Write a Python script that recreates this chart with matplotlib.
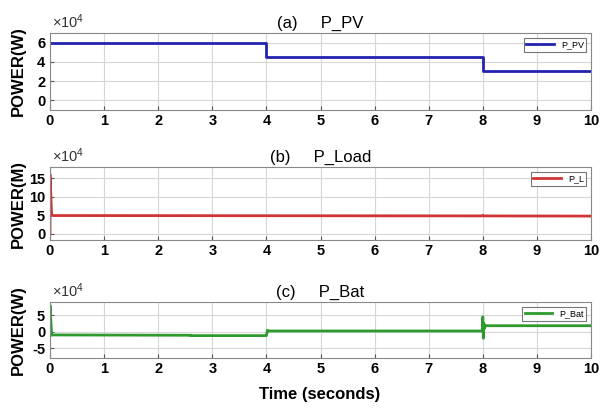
import matplotlib
matplotlib.use("Agg")
import matplotlib.pyplot as plt
from matplotlib.ticker import FuncFormatter

plt.rcParams['font.family'] = ['Liberation Sans', 'DejaVu Sans']
plt.rcParams['mathtext.fontset'] = 'custom'
plt.rcParams['mathtext.rm'] = 'Liberation Sans'

# ---- data (W) ----
t_pv = [0, 4, 4, 8, 8, 10]
p_pv = [60000, 60000, 45000, 45000, 31000, 31000]

t_load = [0, 0.0, 0.03, 0.06, 4.0, 7.99, 8.0, 8.01, 10]
p_load = [0, 160000, 50000, 49000, 48500, 48000, 49500, 48000, 47500]

t_bat = [0, 0.0, 0.03, 0.06, 2.6, 2.6, 3.99, 4.0, 4.02, 4.05, 7.99, 8.0, 8.01, 8.02, 8.03, 8.05, 10]
p_bat = [-12000, 80000, -10000, -10000, -11000, -12000, -12000, -12000, 4000, 2000, 2000, 45000, -20000, 25000, 10000, 18000, 18000]

xticks = list(range(0, 11))
titles = ['(a)     P_PV', '(b)     P_Load', '(c)     P_Bat']
ylabels = ['POWER(W)', 'POWER(M)', 'POWER(W)']
legends = ['P_PV', 'P_L', 'P_Bat']
colors = ['#2323b0', '#d03434', '#2e9a2e']
yticks = [[0, 2, 4, 6], [0, 5, 10, 15], [-5, 0, 5]]
ylims = [(-1, 7), (-1.7, 18), (-8, 9)]

series = [(t_pv, p_pv), (t_load, p_load), (t_bat, p_bat)]

fig = plt.figure(figsize=(6, 4.08), dpi=100)
W, H = 600, 408
boxes = [(50, 33, 591, 110), (50, 167, 591, 240), (50, 302, 591, 358)]

for i, (l, tp, r, bt) in enumerate(boxes):
    ax = fig.add_axes([l / W, 1 - bt / H, (r - l) / W, (bt - tp) / H])
    t, p = series[i]
    ax.plot(t, p, color=colors[i], lw=2, label=legends[i])
    ax.set_xlim(0, 10)
    ax.set_ylim(ylims[i][0] * 1e4, ylims[i][1] * 1e4)
    ax.set_xticks(xticks)
    ax.set_yticks([v * 1e4 for v in yticks[i]])
    ax.yaxis.set_major_formatter(FuncFormatter(lambda v, pos: f"{v/1e4:g}"))
    ax.grid(True, color='#d6d6d6', lw=0.8)
    ax.tick_params(direction='in', length=3, labelsize=10.5, color='#555555')
    ax.tick_params(axis='x', pad=3)
    ax.tick_params(axis='y', pad=3.5)
    for lab in ax.get_xticklabels() + ax.get_yticklabels():
        lab.set_fontweight('bold')
    for s in ax.spines.values():
        s.set_color('#888888')
        s.set_linewidth(0.8)
    ax.set_title(titles[i], fontsize=12, pad=4)
    ax.set_ylabel(ylabels[i], fontsize=12, fontweight='bold', va='center')
    ax.yaxis.set_label_coords(-0.0585, 0.5)
    ax.text(0.003, 1.03, r'$\mathregular{\times10^4}$', transform=ax.transAxes,
            fontsize=10.5, ha='left', va='bottom', color='#333333')
    leg = ax.legend(loc='upper right', fontsize=6.5, frameon=True, fancybox=False,
                    handlelength=3, borderpad=0.3, borderaxespad=0.5)
    leg.get_frame().set_edgecolor('#555555')
    leg.get_frame().set_linewidth(0.8)

fig.text(320 / W, 1 - 395 / H, 'Time (seconds)', fontsize=12, fontweight='bold',
         ha='center', va='center')

fig.savefig('out.png', dpi=100, facecolor='white')
